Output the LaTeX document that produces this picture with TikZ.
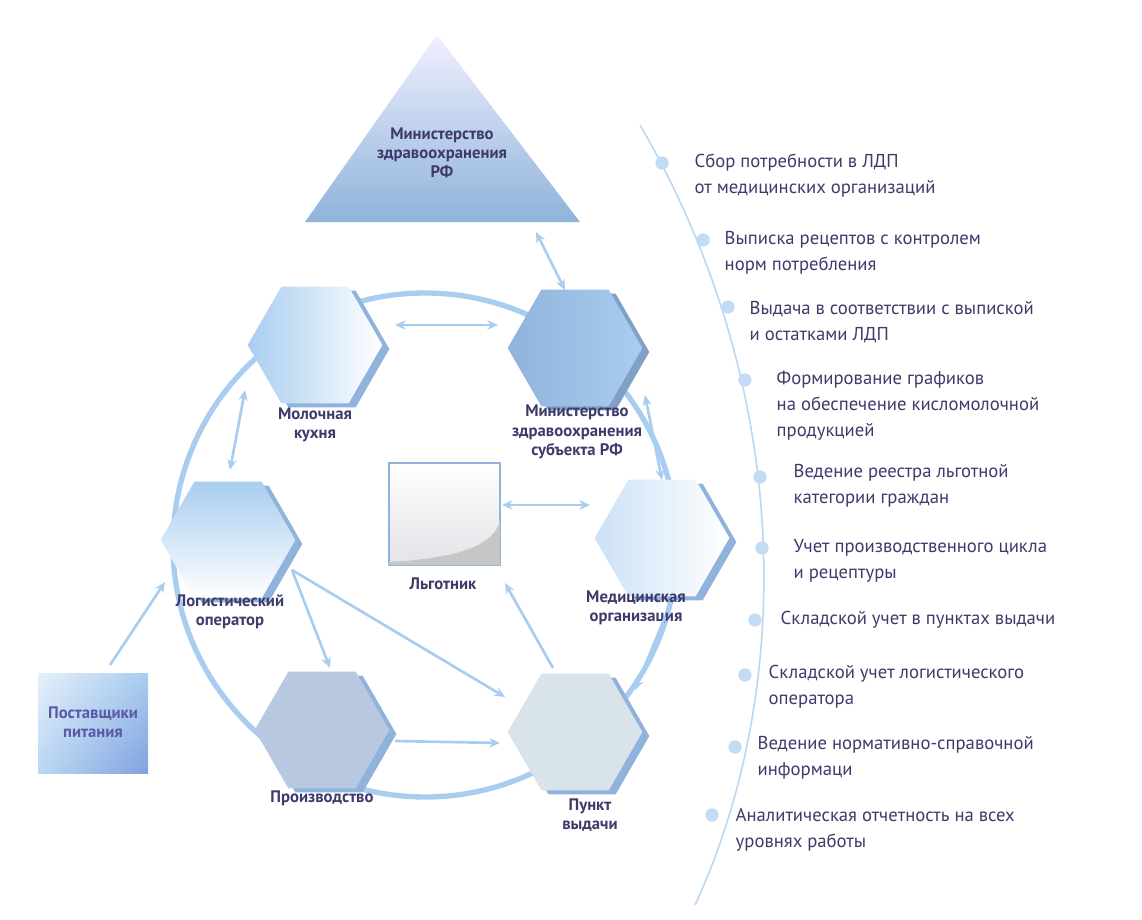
\documentclass[tikz,border=0pt]{standalone}
\usepackage{fontspec}
\setmainfont{PT Sans}
\usetikzlibrary{shapes.geometric,arrows.meta,shadings}
\definecolor{navy}{HTML}{3D3B6B}
\definecolor{lb}{HTML}{A9CDF0}
\definecolor{sh}{HTML}{8FB3DA}
\definecolor{prodc}{HTML}{B8C8E0}
\definecolor{punktc}{HTML}{D9E3EA}
\tikzset{
 hex/.style={regular polygon,regular polygon sides=6,minimum size=101pt,inner sep=0pt},
 hexsh/.style={hex,fill=sh},
 lab/.style={font=\bfseries\fontsize{12.5}{14.5}\selectfont,text=navy,align=center},
 item/.style={anchor=west,font=\fontsize{14}{19.5}\selectfont,text=navy,align=left},
 arr/.style={draw=lb,line width=2pt,-{Stealth[length=8pt,width=7pt]}},
 darr/.style={arr,{Stealth[length=8pt,width=7pt]}-{Stealth[length=8pt,width=7pt]}},
 dot/.style={circle,fill=lb!70,minimum size=10pt,inner sep=0pt}
}
\begin{document}
\begin{tikzpicture}[x=0.75pt,y=-0.75pt]
\useasboundingbox (0,0) rectangle (1142,920);
% big circle
\draw[lb,line width=4pt] (425,545) circle (252);
% triangle
\shade[top color=blue!6,bottom color=sh] (437,35) -- (580,222) -- (305,222) -- cycle;
\node[lab] (minrf) at (442,153) {Министерство\\здравоохранения\\РФ};
% hexagons
\node[hexsh] at (322,349) {};
\node[hex,left color=lb,right color=white] (milk) at (315,345) {};
\node[hexsh,fill=sh!90!black] at (582,352) {};
\node[hex,left color=sh,right color=lb] (minsub) at (575,348) {};
\node[hexsh] at (235,544) {};
\node[hex,top color=lb,bottom color=white] (log) at (228,540) {};
\node[hexsh] at (669,542) {};
\node[hex,left color=lb!60,right color=white] (med) at (662,538) {};
\node[hexsh] at (329,734) {};
\node[hex,fill=prodc] (prod) at (322,730) {};
\node[hexsh] at (582,736) {};
\node[hex,fill=punktc] (punkt) at (575,732) {};
% labels
\node[lab] (lmilk) at (315,425) {Молочная\\кухня};
\node[lab] (lminsub) at (577,432) {Министерство\\здравоохранения\\субъекта РФ};
\node[lab] (llog) at (230,612) {Логистический\\оператор};
\node[lab] (lmed) at (636,608) {Медицинская\\организация};
\node[lab] (lprod) at (322,798) {Производство};
\node[lab] (lpunkt) at (590,815) {Пункт\\выдачи};
% beneficiary square
\shade[top color=white,bottom color=blue!10!gray!20,draw=sh,line width=1.5pt] (389,463) rectangle (500,565);
\fill[gray!45] (500,520) .. controls (495,545) and (460,558) .. (389,562) -- (389,565) -- (500,565) -- cycle;
\node[lab] (lben) at (443,584) {Льготник};
% suppliers
\shade[upper left=white!70!lb,lower right=sh!90!blue,upper right=lb,lower left=lb!80] (38,673) rectangle (148,773);
\node[lab,text=gray!70!blue] (sup) at (93,722) {Поставщики\\питания};
% arrow coordinates
\coordinate (a1) at (536,232); \coordinate (a2) at (565,290);
\coordinate (b1) at (395,325); \coordinate (b2) at (498,325);
\coordinate (c1) at (245,390); \coordinate (c2) at (230,470);
\coordinate (d1) at (645,395); \coordinate (d2) at (662,480);
\coordinate (e1) at (502,505); \coordinate (e2) at (590,505);
\coordinate (f1) at (110,665); \coordinate (f2) at (165,582);
\coordinate (g1) at (292,570); \coordinate (g2) at (330,668); \coordinate (g3) at (505,697);
\coordinate (h1) at (395,741); \coordinate (h2) at (500,743);
\coordinate (i1) at (553,668); \coordinate (i2) at (505,583);
\coordinate (j1) at (665,617); \coordinate (j2) at (635,690);
\draw[darr] (a1) -- (a2);
\draw[darr] (b1) -- (b2);
\draw[darr] (c1) -- (c2);
\draw[darr] (d1) -- (d2);
\draw[darr] (e1) -- (e2);
\draw[arr] (f1) -- (f2);
\draw[arr] (g1) -- (g2);
\draw[arr] (g1) -- (g3);
\draw[arr] (h1) -- (h2);
\draw[arr] (i1) -- (i2);
\draw[arr] (j1) -- (j2);
% right arc
\draw[lb!80,line width=1.2pt] (640,125) .. controls (800,400) and (790,700) .. (695,905);
\foreach \x/\y [count=\k] in {662/163,703/240,728/307,745/380,760/477,762/548,755/620,745/675,735/747,712/815}
  \node[dot] (p\k) at (\x,\y) {};
\node[item] (t1) at (690,176) {Сбор потребности в ЛДП\\от медицинских организаций};
\node[item] (t2) at (720,253) {Выписка рецептов с контролем\\норм потребления};
\node[item] (t3) at (745,322) {Выдача в соответствии с выпиской\\и остатками ЛДП};
\node[item] (t4) at (772,406) {Формирование графиков\\на обеспечение кисломолочной\\продукцией};
\node[item] (t5) at (789,486) {Ведение реестра льготной\\категории граждан};
\node[item] (t6) at (789,561) {Учет производственного цикла\\и рецептуры};
\node[item] (t7) at (776,620) {Складской учет в пунктах выдачи};
\node[item] (t8) at (764,687) {Складской учет логистического\\оператора};
\node[item] (t9) at (753,758) {Ведение нормативно-справочной\\информаци};
\node[item] (t10) at (731,830) {Аналитическая отчетность на всех\\уровнях работы};
\end{tikzpicture}
\end{document}
